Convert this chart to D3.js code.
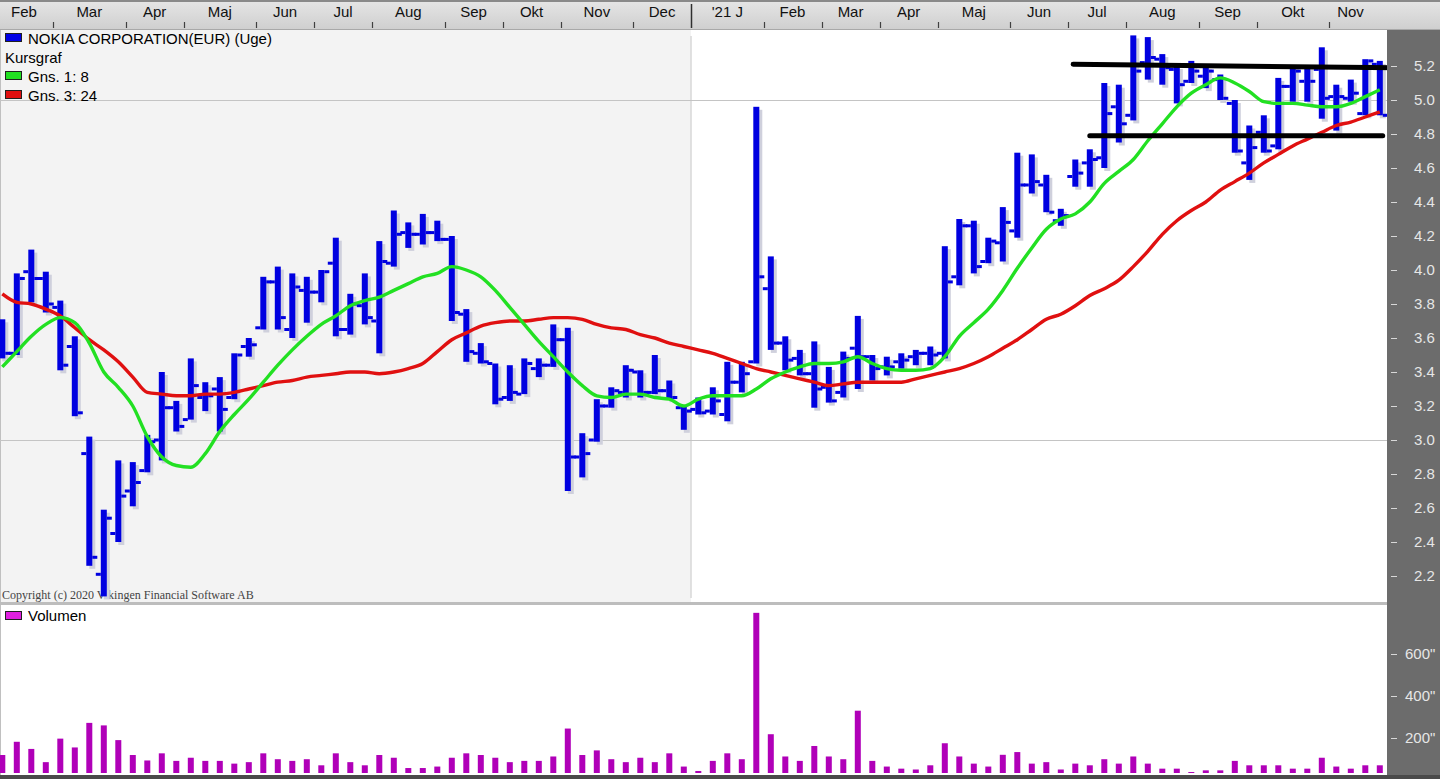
<!DOCTYPE html>
<html><head><meta charset="utf-8">
<script src="https://cdn.jsdelivr.net/npm/d3@7"></script>
<style>html,body{margin:0;padding:0;background:#fff;overflow:hidden}text{font-family:"Liberation Sans",Arial,sans-serif}</style>
</head><body><svg id="c" width="1440" height="779"></svg>
<script>
// ---------- DATA (weekly bars, Feb 2020 .. Nov 2021) ----------
const opens  = [3.62,3.51,3.99,3.95,3.78,3.55,2.92,2.21,2.45,2.70,2.82,3.00,3.19,3.12,3.25,3.30,3.25,3.55,3.66,3.93,3.65,3.88,3.87,4.04,3.65,3.79,3.70,4.04,4.22,4.21,4.22,4.18,3.74,3.51,3.45,3.25,3.27,3.42,3.44,3.59,2.90,3.00,3.20,3.28,3.40,3.28,3.29,3.19,3.18,3.17,3.15,3.34,3.46,3.89,3.57,3.48,3.39,3.31,3.28,3.54,3.49,3.43,3.46,3.49,3.51,3.51,3.96,4.26,4.05,4.16,4.23,4.50,4.50,4.29,4.55,4.63,4.66,4.96,4.91,5.22,5.24,5.18,5.11,5.14,5.12,4.98,4.63,4.81,4.73,5.08,5.11,5.18,5.02,5.01,4.92,5.21];
const highs  = [3.71,3.98,4.12,3.99,3.82,3.61,3.02,2.59,2.88,2.87,3.03,3.40,3.23,3.48,3.34,3.37,3.51,3.60,3.96,4.02,3.98,3.96,4.00,4.19,3.86,3.98,4.17,4.35,4.28,4.33,4.29,4.20,3.77,3.57,3.45,3.44,3.48,3.48,3.68,3.66,3.04,3.24,3.31,3.44,3.41,3.50,3.35,3.20,3.25,3.31,3.46,3.46,4.96,4.08,3.61,3.53,3.58,3.43,3.52,3.73,3.50,3.49,3.51,3.53,3.55,4.14,4.30,4.29,4.19,4.37,4.69,4.68,4.56,4.36,4.65,4.71,5.10,5.09,5.38,5.37,5.27,5.20,5.23,5.20,5.15,5.00,4.85,4.91,5.13,5.20,5.20,5.31,5.09,5.12,5.24,5.23];
const lows   = [3.48,3.50,3.81,3.75,3.41,3.14,2.26,2.08,2.40,2.61,2.81,2.88,3.05,3.12,3.17,3.05,3.24,3.49,3.65,3.65,3.60,3.69,3.81,3.61,3.62,3.68,3.51,4.02,4.13,4.15,4.17,3.70,3.46,3.45,3.21,3.23,3.27,3.37,3.43,2.70,2.78,2.99,3.19,3.25,3.25,3.27,3.24,3.06,3.15,3.15,3.11,3.28,3.45,3.53,3.41,3.38,3.19,3.22,3.25,3.30,3.35,3.38,3.42,3.44,3.44,3.48,3.91,3.98,4.04,4.05,4.19,4.45,4.34,4.26,4.49,4.49,4.60,4.75,4.88,5.12,5.09,4.98,5.10,5.07,5.00,4.69,4.53,4.69,4.71,4.99,4.99,4.89,4.82,4.99,4.91,4.91];
const closes = [3.51,3.95,3.95,3.80,3.44,3.16,2.31,2.54,2.67,2.75,2.99,3.19,3.08,3.32,3.26,3.18,3.50,3.56,3.93,3.72,3.90,3.87,3.99,3.65,3.80,3.72,4.05,4.21,4.21,4.22,4.18,3.75,3.52,3.46,3.24,3.28,3.45,3.44,3.59,2.90,2.92,3.20,3.29,3.41,3.28,3.29,3.25,3.17,3.16,3.23,3.34,3.39,3.96,3.57,3.47,3.39,3.30,3.23,3.48,3.49,3.42,3.43,3.47,3.51,3.50,3.93,4.26,4.02,4.17,4.28,4.50,4.52,4.34,4.32,4.57,4.65,4.92,4.86,5.17,5.25,5.19,5.09,5.17,5.17,5.01,4.70,4.72,4.70,5.08,5.17,5.11,5.01,5.02,5.04,5.23,4.91];
const avg8   = [3.43,3.52,3.61,3.68,3.72,3.69,3.57,3.40,3.31,3.20,3.02,2.90,2.85,2.84,2.92,3.05,3.15,3.24,3.34,3.44,3.53,3.61,3.68,3.73,3.79,3.82,3.84,3.88,3.92,3.96,3.98,4.02,4.00,3.96,3.88,3.78,3.68,3.58,3.49,3.40,3.32,3.26,3.25,3.27,3.27,3.25,3.24,3.20,3.24,3.26,3.26,3.26,3.30,3.36,3.40,3.43,3.45,3.45,3.46,3.49,3.45,3.42,3.41,3.41,3.42,3.49,3.61,3.69,3.77,3.88,4.01,4.13,4.24,4.30,4.33,4.40,4.51,4.58,4.65,4.76,4.86,4.96,5.04,5.09,5.13,5.10,5.05,4.99,4.98,4.98,4.97,4.96,4.96,4.98,5.02,5.06];
const avg24  = [3.86,3.81,3.80,3.77,3.73,3.66,3.59,3.53,3.46,3.37,3.28,3.27,3.26,3.26,3.27,3.27,3.28,3.30,3.32,3.34,3.35,3.37,3.38,3.39,3.40,3.40,3.39,3.40,3.42,3.45,3.52,3.59,3.63,3.67,3.69,3.70,3.70,3.71,3.72,3.72,3.71,3.68,3.66,3.65,3.62,3.60,3.57,3.55,3.53,3.51,3.48,3.45,3.42,3.40,3.38,3.36,3.34,3.32,3.33,3.34,3.34,3.34,3.34,3.36,3.38,3.40,3.42,3.45,3.49,3.54,3.59,3.65,3.71,3.74,3.79,3.85,3.89,3.94,4.02,4.11,4.21,4.29,4.35,4.40,4.47,4.52,4.57,4.63,4.68,4.73,4.77,4.81,4.85,4.87,4.90,4.93];
const volume = [119,182,148,85,197,155,272,260,190,119,93,127,91,106,91,91,78,85,127,99,91,99,70,127,85,70,119,106,57,57,64,106,127,119,106,85,91,91,112,245,119,141,99,85,106,85,127,64,43,91,127,99,796,218,112,91,162,112,99,330,91,64,54,50,70,175,112,78,64,120,133,78,85,50,78,70,99,78,112,78,54,54,38,46,46,91,70,70,70,54,54,106,64,54,70,70];
const monthLabels    = ["Feb","Mar","Apr","Maj","Jun","Jul","Aug","Sep","Okt","Nov","Dec","'21 J","Feb","Mar","Apr","Maj","Jun","Jul","Aug","Sep","Okt","Nov"];
const monthStartWeek = [0,4,9,13,18,22,26,31,35,39,44,48,53,57,61,65,70,74,78,83,87,92];
const yearStartWeek  = [48];
const priceTicks  = [2.2,2.4,2.6,2.8,3.0,3.2,3.4,3.6,3.8,4.0,4.2,4.4,4.6,4.8,5.0,5.2];
const priceGrid   = [3.0,5.0];
const volumeTicks = [200,400,600];
const resistanceLine = [[73.85,5.21],[96.05,5.19]];
const supportLine    = [[75.0,4.79],[95.2,4.79]];
const legendItems = [
  {label:"NOKIA CORPORATION(EUR) (Uge)", color:"#0000e6"},
  {label:"Kursgraf", color:null},
  {label:"Gns. 1: 8", color:"#22e022"},
  {label:"Gns. 3: 24", color:"#e01010"}
];

// ---------- LAYOUT ----------
const W = 1440, H = 779;
const plotRight = 1387, priceTop = 30, priceBottom = 602, volTop = 605, volBottom = 775;
const svg = d3.select("#c");
const nWeeks = closes.length;

const x = d3.scaleLinear().domain([0, nWeeks - 1]).range([2.3, 2.3 + 14.5 * (nWeeks - 1)]);
const y = d3.scaleLinear().domain([3.0, 5.0]).range([440, 100]);
const yv = d3.scaleLinear().domain([0, 800]).range([780, 612]);

const defs = svg.append("defs");
const g1 = defs.append("linearGradient").attr("id","band").attr("x1",0).attr("y1",0).attr("x2",0).attr("y2",1);
g1.append("stop").attr("offset","0%").attr("stop-color","#e6e6e6");
g1.append("stop").attr("offset","100%").attr("stop-color","#cfcfcf");
defs.append("clipPath").attr("id","pclip").append("rect").attr("x",0).attr("y",priceTop).attr("width",plotRight).attr("height",priceBottom-priceTop);
defs.append("clipPath").attr("id","vclip").append("rect").attr("x",0).attr("y",volTop).attr("width",plotRight).attr("height",volBottom-2-volTop);

// backgrounds
svg.append("rect").attr("width",W).attr("height",H).attr("fill","#ffffff");
svg.append("rect").attr("x",0).attr("y",priceTop).attr("width",x(yearStartWeek[0]-0.5)).attr("height",priceBottom-priceTop).attr("fill","#f3f3f3");
svg.append("line").attr("x1",x(yearStartWeek[0]-0.5)).attr("x2",x(yearStartWeek[0]-0.5)).attr("y1",36).attr("y2",598).attr("stroke","#c8c8c8");
svg.append("line").attr("x1",0.5).attr("x2",0.5).attr("y1",priceTop).attr("y2",volBottom).attr("stroke","#c0c0c0");

// price grid
svg.append("g").selectAll("line").data(priceGrid).join("line")
  .attr("x1",0).attr("x2",plotRight).attr("y1",d=>Math.round(y(d))+0.5).attr("y2",d=>Math.round(y(d))+0.5)
  .attr("stroke","#c4c4c4");

// top month band
svg.append("rect").attr("x",0).attr("y",0).attr("width",W).attr("height",29).attr("fill","url(#band)");
svg.append("rect").attr("x",0).attr("y",0).attr("width",W).attr("height",2).attr("fill","#8a8a8a");
svg.append("line").attr("x1",0).attr("x2",W).attr("y1",29.5).attr("y2",29.5).attr("stroke","#a8a8a8");
svg.append("g").selectAll("line").data(monthStartWeek).join("line")
  .attr("x1",w=>Math.round(x(w-0.5))+0.5).attr("x2",w=>Math.round(x(w-0.5))+0.5)
  .attr("y1",w=>yearStartWeek.includes(w)?4:22).attr("y2",28)
  .attr("stroke",w=>yearStartWeek.includes(w)?"#303030":"#404040").attr("stroke-width",w=>yearStartWeek.includes(w)?1.5:1.2);
svg.append("g").selectAll("text").data(monthLabels).join("text")
  .attr("x",(d,i)=>{const a=x(monthStartWeek[i]-0.5); const b=i<monthStartWeek.length-1?x(monthStartWeek[i+1]-0.5):plotRight-15; return (a+b)/2;})
  .attr("y",17).attr("text-anchor","middle").attr("font-size",15).attr("fill","#111")
  .text(d=>d);

// volume pane separator
svg.append("rect").attr("x",0).attr("y",602).attr("width",plotRight).attr("height",3).attr("fill","#bdbdbd");

// copyright
svg.append("text").attr("x",2).attr("y",599).attr("font-size",12).attr("fill","#444")
  .style("font-family","'Liberation Serif',serif").text("Copyright (c) 2020 Vikingen Financial Software AB");

// price bars
const bars = svg.append("g").attr("clip-path","url(#pclip)");
const idx = d3.range(nWeeks);
bars.append("g").selectAll("rect").data(idx).join("rect")
  .attr("x",i=>x(i)).attr("y",i=>y(highs[i])+3).attr("width",6).attr("height",i=>y(lows[i])-y(highs[i]))
  .attr("fill","#cfd0dc");
const bc = "#0000e0";
bars.append("g").selectAll("rect").data(idx).join("rect")
  .attr("x",i=>x(i)-3).attr("y",i=>y(highs[i])).attr("width",6).attr("height",i=>Math.max(2,y(lows[i])-y(highs[i])))
  .attr("fill",bc);
bars.append("g").selectAll("rect").data(idx).join("rect")
  .attr("x",i=>x(i)-8).attr("y",i=>y(opens[i])-1.5).attr("width",5).attr("height",3).attr("fill",bc);
bars.append("g").selectAll("rect").data(idx).join("rect")
  .attr("x",i=>x(i)+3).attr("y",i=>y(closes[i])-1.5).attr("width",5).attr("height",3).attr("fill",bc);

// moving averages
const line = d3.line().x((d,i)=>x(i)).y(d=>y(d)).curve(d3.curveMonotoneX);
bars.append("path").datum(avg24).attr("d",line).attr("fill","none").attr("stroke","#e01010").attr("stroke-width",3.4).attr("stroke-linejoin","round");
bars.append("path").datum(avg8).attr("d",line).attr("fill","none").attr("stroke","#22e022").attr("stroke-width",3.4).attr("stroke-linejoin","round");

// trend lines
const tl = d3.line().x(d=>x(d[0])).y(d=>y(d[1]));
[resistanceLine, supportLine].forEach(l=>{
  svg.append("path").attr("d",tl(l)).attr("stroke","#000").attr("stroke-width",5).attr("stroke-linecap","round").attr("fill","none");
});

// legend
const lg = svg.append("g");
legendItems.forEach((d,i)=>{
  const yy = 38 + i*19;
  if (d.color) lg.append("rect").attr("x",5.5).attr("y",yy-4.5).attr("width",16).attr("height",8).attr("fill",d.color).attr("stroke","#202020");
  lg.append("text").attr("x",d.color?28:5).attr("y",yy+5.5).attr("font-size",15).attr("fill","#000").text(d.label);
});

// volume bars
svg.append("g").attr("clip-path","url(#vclip)").selectAll("rect").data(idx).join("rect")
  .attr("x",i=>x(i)-3).attr("y",i=>yv(volume[i])).attr("width",6).attr("height",i=>yv(0)-yv(volume[i]))
  .attr("fill","#b000b8");
svg.append("rect").attr("x",5.5).attr("y",611.5).attr("width",16).attr("height",8).attr("fill","#e020e0").attr("stroke","#202020");
svg.append("text").attr("x",28).attr("y",621).attr("font-size",15).attr("fill","#000").text("Volumen");

// right axis panel
svg.append("rect").attr("x",plotRight).attr("y",priceTop).attr("width",W-plotRight).attr("height",H-priceTop).attr("fill","#6c6c6c");
const ay = d3.axisRight(y).tickValues(priceTicks).tickFormat(d3.format(".1f")).tickSize(6).tickPadding(17);
const ga = svg.append("g").attr("transform",`translate(${plotRight+4},0)`).call(ay);
ga.select(".domain").remove();
ga.selectAll("line").attr("stroke","#d8d8d8");
ga.selectAll("text").attr("fill","#e6e6e6").attr("font-size",15).attr("font-family","Liberation Sans, Arial");
const av = d3.axisRight(yv).tickValues(volumeTicks).tickFormat(d=>d+'"').tickSize(6).tickPadding(8);
const gv = svg.append("g").attr("transform",`translate(${plotRight+4},0)`).call(av);
gv.select(".domain").remove();
gv.selectAll("line").attr("stroke","#d8d8d8");
gv.selectAll("text").attr("fill","#e6e6e6").attr("font-size",15).attr("font-family","Liberation Sans, Arial");

// bottom border
svg.append("rect").attr("x",0).attr("y",775).attr("width",W).attr("height",4).attr("fill","#4a4a4a");
</script></body></html>
